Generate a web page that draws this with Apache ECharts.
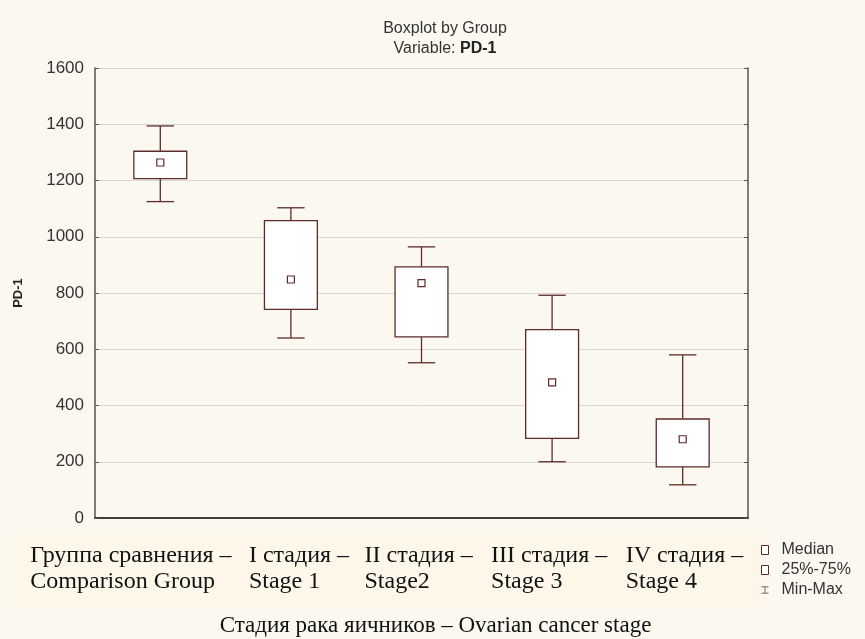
<!DOCTYPE html>
<html>
<head>
<meta charset="utf-8">
<script src="https://cdn.jsdelivr.net/npm/echarts@6/dist/echarts.min.js"></script>
<style>
  html, body { margin: 0; padding: 0; background: #fbf8ef; }
  #chart { width: 865px; height: 639px; }
</style>
</head>
<body>
<div id="chart"></div>
<script>
// categories (two lines each, as on the picture)
var groupsRu = ['Группа сравнения –', 'I стадия –', 'II стадия –', 'III стадия –', 'IV стадия –'];
var groupsEn = ['Comparison Group', 'Stage 1', 'Stage2', 'Stage 3', 'Stage 4'];

// box statistics, PD-1
var minVals    = [1125, 640, 552, 200, 118];
var q1Vals     = [1207, 742, 644, 283, 182];
var medianVals = [1264, 848, 835, 482, 280];
var q3Vals     = [1304, 1057, 893, 670, 352];
var maxVals    = [1394, 1103, 964, 792, 580];

var yTicks = [0, 200, 400, 600, 800, 1000, 1200, 1400, 1600];

var lineColor = '#5e2b2b';
// width of the (left aligned) label block under each category
var labelBlockW = [260, 84, 114, 122, 114];

var categories = groupsRu.map(function (r, i) { return r + '\n' + groupsEn[i]; });

var boxData = categories.map(function (c, i) {
  return [i, minVals[i], q1Vals[i], medianVals[i], q3Vals[i], maxVals[i]];
});
var medianData = categories.map(function (c, i) { return [i, medianVals[i]]; });

// whiskers: min-max line with caps
function renderWhisker(params, api) {
  var x = api.value(0);
  var pMin = api.coord([x, api.value(1)]);
  var pMax = api.coord([x, api.value(5)]);
  var band = api.size([1, 0])[0];
  var half = band * 0.105;
  var st = { stroke: lineColor, lineWidth: 1.3 };
  return {
    type: 'group',
    children: [
      { type: 'line', shape: { x1: pMin[0], y1: pMin[1], x2: pMax[0], y2: pMax[1] }, style: st },
      { type: 'line', shape: { x1: pMin[0] - half, y1: pMin[1], x2: pMin[0] + half, y2: pMin[1] }, style: st },
      { type: 'line', shape: { x1: pMax[0] - half, y1: pMax[1], x2: pMax[0] + half, y2: pMax[1] }, style: st }
    ]
  };
}

// box: 25%-75%
function renderBox(params, api) {
  var x = api.value(0);
  var pLo = api.coord([x, api.value(2)]);
  var pHi = api.coord([x, api.value(4)]);
  var band = api.size([1, 0])[0];
  var w = band * 0.405;
  return {
    type: 'rect',
    shape: { x: pLo[0] - w / 2, y: pHi[1], width: w, height: pLo[1] - pHi[1] },
    style: { fill: '#fff', stroke: lineColor, lineWidth: 1.3 }
  };
}

var labelRich = {};
labelBlockW.forEach(function (w, i) {
  labelRich['c' + i] = {
    width: w, align: 'left', fontFamily: 'Liberation Serif',
    fontSize: 24, lineHeight: 26, color: '#111'
  };
});

var chart = echarts.init(document.getElementById('chart'));
var option = {
  backgroundColor: '#fbf8ef',
  animation: false,
  textStyle: { fontFamily: 'Liberation Sans, Arial, sans-serif' },
  title: {
    left: 440,
    top: 14,
    textAlign: 'center',
    text: '{a|Boxplot by Group}\n{a|Variable: }{b|PD-1}',
    textStyle: {
      rich: {
        a: { fontSize: 16, color: '#333', lineHeight: 20, fontWeight: 'normal', fontFamily: 'Liberation Sans' },
        b: { fontSize: 16, color: '#222', lineHeight: 20, fontWeight: 'bold', fontFamily: 'Liberation Sans' }
      }
    }
  },
  legend: {
    orient: 'vertical',
    left: 756,
    top: 537,
    itemGap: 4,
    itemWidth: 7,
    itemHeight: 9,
    textStyle: { fontSize: 16, color: '#333', padding: [0, 0, 0, 8] },
    data: [
      { name: 'Median', icon: 'rect', itemStyle: { color: '#fff', borderColor: lineColor, borderWidth: 1 } },
      { name: '25%-75%', icon: 'rect', itemStyle: { color: '#fff', borderColor: lineColor, borderWidth: 1 } },
      { name: 'Min-Max', icon: 'path://M0,0H10V1H5.5V9H10V10H0V9H4.5V1H0Z', itemStyle: { color: lineColor } }
    ]
  },
  graphic: [{
    type: 'rect',
    z: -10,
    shape: { x: 10, y: 533, width: 753, height: 75 },
    style: { fill: '#fdf7ea' }
  }],
  grid: { left: 95, right: 117, top: 68, bottom: 121, outerBoundsMode: 'none', containLabel: false },
  xAxis: [{
    type: 'category',
    data: categories,
    position: 'bottom',
    boundaryGap: true,
    axisLine: { lineStyle: { color: '#333', width: 1.5 } },
    axisTick: { inside: true, alignWithLabel: true, length: 5, lineStyle: { color: '#333' } },
    axisLabel: {
      interval: 0,
      margin: 25,
      formatter: function (v, i) {
        return '{c' + i + '|' + groupsRu[i] + '}\n{c' + i + '|' + groupsEn[i] + '}';
      },
      rich: labelRich
    },
    name: 'Стадия рака яичников – Ovarian cancer stage',
    nameLocation: 'middle',
    nameGap: 96,
    nameTextStyle: { fontFamily: 'Liberation Serif', fontSize: 23, color: '#111', padding: [0, 0, 0, 28] }
  }, {
    type: 'category',
    data: categories,
    position: 'top',
    boundaryGap: true,
    axisLine: { lineStyle: { color: '#333', width: 1.5 } },
    axisTick: { inside: true, alignWithLabel: true, length: 5, lineStyle: { color: '#333' } },
    axisLabel: { show: false }
  }],
  yAxis: [{
    type: 'value',
    min: yTicks[0],
    max: yTicks[yTicks.length - 1],
    interval: 200,
    name: 'PD-1',
    nameLocation: 'middle',
    nameGap: 70,
    nameTextStyle: { fontSize: 13, fontWeight: 'bold', color: '#222' },
    axisLine: { show: true, lineStyle: { color: '#555', width: 1.5 } },
    axisTick: { show: true, inside: true, length: 4, lineStyle: { color: '#555' } },
    axisLabel: { fontSize: 17, color: '#333', margin: 11, formatter: function (v) { return String(v); } },
    splitLine: { lineStyle: { color: '#d6d6d6', width: 1 } }
  }, {
    type: 'value',
    min: yTicks[0],
    max: yTicks[yTicks.length - 1],
    interval: 200,
    position: 'right',
    axisLine: { show: true, lineStyle: { color: '#555', width: 1.5 } },
    axisTick: { show: true, inside: true, length: 4, lineStyle: { color: '#555' } },
    axisLabel: { show: false },
    splitLine: { show: false }
  }],
  series: [{
    name: 'Min-Max',
    type: 'custom',
    renderItem: renderWhisker,
    encode: { x: 0, y: [1, 5] },
    itemStyle: { color: lineColor },
    data: boxData,
    z: 2
  }, {
    name: '25%-75%',
    type: 'custom',
    renderItem: renderBox,
    encode: { x: 0, y: [2, 4] },
    itemStyle: { color: lineColor },
    data: boxData,
    z: 3
  }, {
    name: 'Median',
    type: 'scatter',
    symbol: 'rect',
    symbolSize: 7,
    itemStyle: { color: '#fff', borderColor: lineColor, borderWidth: 1.2, opacity: 1 },
    data: medianData,
    z: 4
  }]
};
chart.setOption(option);
</script>
</body>
</html>
